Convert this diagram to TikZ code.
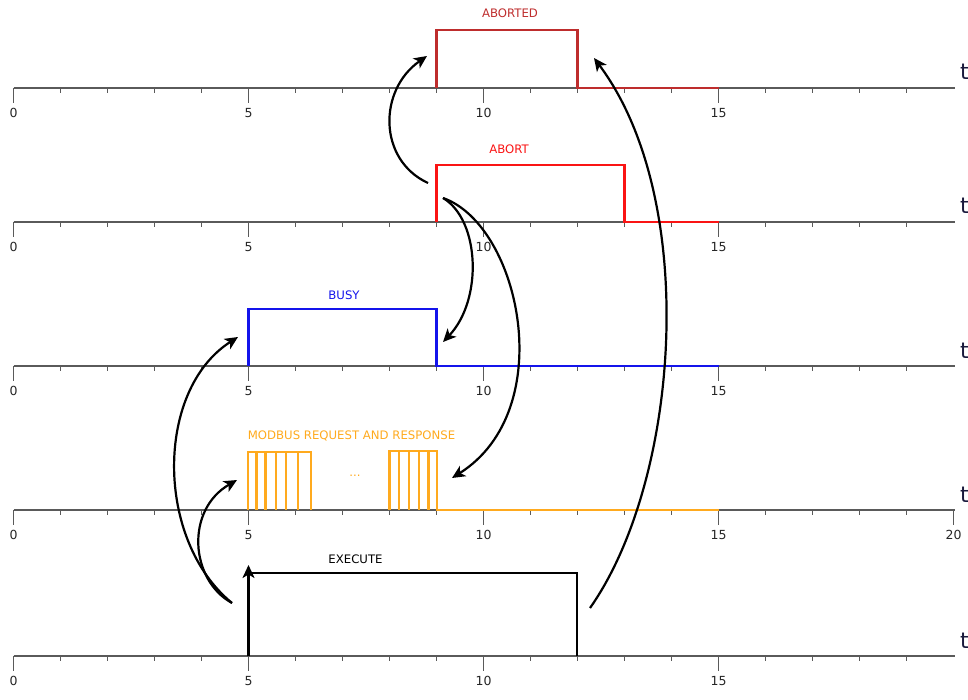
\documentclass[tikz,border=0pt]{standalone}
\usepackage{fontspec}
\setmainfont{DejaVu Sans}
\usetikzlibrary{arrows.meta}
\definecolor{cAborted}{RGB}{190,45,45}
\definecolor{cAbort}{RGB}{250,20,20}
\definecolor{cBusy}{RGB}{20,20,235}
\definecolor{cModbus}{RGB}{255,170,30}
\definecolor{cAxis}{RGB}{90,90,90}
\definecolor{cT}{RGB}{25,25,60}
\begin{document}
\begin{tikzpicture}[x=1pt,y=-1pt,
  axisline/.style={cAxis,line width=1.6pt},
  sig/.style={line width=2.5pt,line join=miter},
  lbl/.style={font=\fontsize{11.7}{14}\selectfont,inner sep=0pt},
  numl/.style={font=\fontsize{12.5}{14}\selectfont,text=black!85,inner sep=0pt},
  tlab/.style={font=\fontsize{22}{24}\selectfont,text=cT,inner sep=0pt,anchor=base west},
  flow/.style={line width=2.2pt,-{Stealth[length=13pt,width=12pt,inset=3.5pt]}}
]
\useasboundingbox (0,0) rectangle (968,700);

% axes
\foreach \Y/\nm in {88/A,222/B,366/C,510/D,656/E} {
  \draw[axisline] (13.5,\Y) -- (955,\Y);
  \foreach \k in {1,...,19} \draw[axisline] ({13.5+47*\k},\Y) -- ++(0,5);
  \foreach \k in {0,5,10,15} {
    \draw[axisline] ({13.5+47*\k},\Y) -- ++(0,15);
    \node[numl] (n\nm\k) at ({13.5+47*\k},\Y+25) {\k};
  }
  \node[tlab] (t\nm) at (960,\Y-8) {t};
}
\draw[axisline] (953.5,510) -- ++(0,15);
\node[numl] (nD20) at (953.5,535) {20};

% ABORTED
\draw[sig,cAborted] (436.5,88) -- (436.5,30) -- (577.5,30) -- (577.5,88) -- (718.5,88);
\node[lbl,text=cAborted] (lAborted) at (510,13) {ABORTED};

% ABORT
\draw[sig,cAbort] (436.5,222) -- (436.5,165) -- (624.5,165) -- (624.5,222) -- (718.5,222);
\node[lbl,text=cAbort] (lAbort) at (509,149) {ABORT};

% BUSY
\draw[sig,cBusy] (248.5,366) -- (248.5,309) -- (436.5,309) -- (436.5,366) -- (718.5,366);
\node[lbl,text=cBusy] (lBusy) at (344,295) {BUSY};

% MODBUS
\draw[sig,cModbus] (248,510) -- (248,452) -- (311,452) -- (311,510);
\foreach \xx in {256.5,265.5,276,286,298} \draw[sig,cModbus] (\xx,452) -- (\xx,510);
\draw[sig,cModbus] (389.5,510) -- (389.5,451) -- (437,451) -- (437,510) -- (718.5,510);
\foreach \xx in {399,409,419,428.5} \draw[sig,cModbus] (\xx,451) -- (\xx,510);
\node[lbl,text=cModbus] (lModbus) at (351.5,436) {MODBUS REQUEST AND RESPONSE};
\node[lbl,text=cModbus] (lDots) at (355,476) {...};

% EXECUTE
\draw[sig,black] (248.5,573) -- (577,573) -- (577,656);
\node[lbl,text=black] (lExecute) at (355.5,559) {EXECUTE};
\coordinate (exBot) at (248.5,656);
\coordinate (exTop) at (248.5,565);
\draw[flow] (exBot) -- (exTop);

% causal arrows
\coordinate (s1) at (232,603);
\coordinate (e1) at (238,337);
\coordinate (e2) at (237,480);
\coordinate (s3) at (590,608);
\coordinate (e3) at (594,58);
\coordinate (s4) at (428,183);
\coordinate (e4) at (427,56);
\coordinate (s5) at (443,198);
\coordinate (e5) at (443,342);
\coordinate (e6) at (452,478);

\draw[flow] (s1) .. controls (155,540) and (155,390) .. (e1);
\draw[flow] (s1) .. controls (190,580) and (185,510) .. (e2);
\draw[flow] (s3) .. controls (680,480) and (700,200) .. (e3);
\draw[flow] (s4) .. controls (378,160) and (378,90) .. (e4);
\draw[flow] (s5) .. controls (480,220) and (483,300) .. (e5);
\draw[flow] (s5) .. controls (520,225) and (560,410) .. (e6);
\end{tikzpicture}
\end{document}
